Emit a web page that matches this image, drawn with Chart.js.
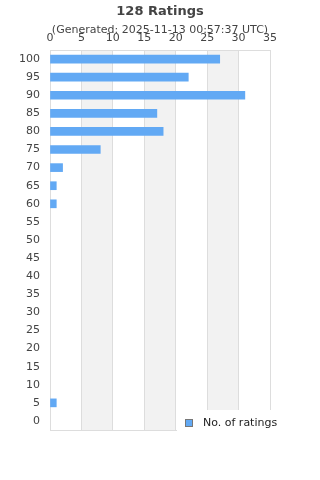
<!DOCTYPE html>
<html>
<head>
<meta charset="utf-8">
<script src="https://cdn.jsdelivr.net/npm/chart.js@4"></script>
<style>
  html, body { margin: 0; padding: 0; background: #fff; }
  #wrap { width: 320px; height: 480px; }
</style>
</head>
<body>
<div id="wrap"><canvas id="ratingsChart"></canvas></div>
<script>
// data
const categories = ['100', '95', '90', '85', '80', '75', '70', '65', '60', '55', '50',
                    '45', '40', '35', '30', '25', '20', '15', '10', '5', '0'];
const ratingCounts = [27, 22, 31, 17, 18, 8, 2, 1, 1, 0, 0, 0, 0, 0, 0, 0, 0, 0, 0, 1, 0];
const seriesLabel = 'No. of ratings';
const titleText = '128 Ratings';
const subtitleText = '(Generated: 2025-11-13 00:57:37 UTC)';
const xTickStep = 5;
const xMax = 35;
const bandRanges = [[5, 10], [15, 20], [25, 30]];

const barColor = '#62a9f4';
const textColor = '#444';
const gridColor = '#dddddd';
const bandColor = '#f2f2f2';

Chart.defaults.font.family = '"DejaVu Sans", sans-serif';

// alternating gray bands behind the grid
const bandsPlugin = {
    id: 'bands',
    beforeDraw(chart) {
        const { ctx, chartArea } = chart;
        const x = chart.scales.x;
        ctx.save();
        ctx.fillStyle = bandColor;
        bandRanges.forEach(([a, b]) => {
            const x0 = x.getPixelForValue(a);
            const x1 = x.getPixelForValue(b);
            ctx.fillRect(x0, chartArea.top, x1 - x0, chartArea.bottom - chartArea.top);
        });
        ctx.restore();
    }
};

// bottom border plus the legend box sitting over the lower right corner
const legendPlugin = {
    id: 'cornerLegend',
    afterDraw(chart) {
        const { ctx, chartArea } = chart;
        ctx.save();
        ctx.strokeStyle = gridColor;
        ctx.lineWidth = 1;
        ctx.beginPath();
        ctx.moveTo(chartArea.left, Math.round(chartArea.bottom) + 0.5);
        ctx.lineTo(chartArea.right, Math.round(chartArea.bottom) + 0.5);
        ctx.stroke();

        const boxLeft = chartArea.left + 127;
        const boxTop = chartArea.bottom - 20;
        ctx.fillStyle = '#fff';
        ctx.fillRect(boxLeft, boxTop, chart.width - boxLeft, chart.height - boxTop);

        ctx.fillStyle = barColor;
        ctx.fillRect(boxLeft + 8.5, boxTop + 9.5, 7, 7);
        ctx.strokeStyle = '#777';
        ctx.strokeRect(boxLeft + 8.5, boxTop + 9.5, 7, 7);

        ctx.fillStyle = '#222';
        ctx.font = '11px "DejaVu Sans", sans-serif';
        ctx.textBaseline = 'middle';
        ctx.textAlign = 'left';
        ctx.fillText(seriesLabel, boxLeft + 26, boxTop + 13);
        ctx.restore();
    }
};

new Chart(document.getElementById('ratingsChart'), {
    type: 'bar',
    data: {
        labels: categories,
        datasets: [{
            label: seriesLabel,
            data: ratingCounts,
            backgroundColor: (c) => (c.raw ? barColor : 'rgba(0,0,0,0)'),
            barThickness: 8
        }]
    },
    options: {
        indexAxis: 'y',
        responsive: true,
        maintainAspectRatio: false,
        animation: false,
        layout: { padding: { left: 0, right: 0, top: 0, bottom: 50 } },
        plugins: {
            legend: { display: false },
            tooltip: { enabled: false },
            title: {
                display: true,
                text: titleText,
                color: textColor,
                font: { size: 13, weight: 'bold' },
                padding: { top: 4, bottom: 4 }
            },
            subtitle: {
                display: true,
                text: subtitleText,
                color: textColor,
                font: { size: 11 },
                padding: { top: 0, bottom: -8 }
            }
        },
        scales: {
            x: {
                position: 'top',
                min: 0,
                max: xMax,
                grid: { color: gridColor, drawTicks: false },
                border: { color: gridColor },
                ticks: {
                    stepSize: xTickStep,
                    color: textColor,
                    font: { size: 11 },
                    padding: 5,
                    maxRotation: 0
                },
                afterFit(scale) { scale.height = 21.2; }
            },
            y: {
                grid: { display: false, drawTicks: false },
                border: { color: gridColor },
                ticks: {
                    color: textColor,
                    font: { size: 11 },
                    padding: 10,
                    autoSkip: false
                },
                afterFit(scale) { scale.width = 50; }
            },
            // empty right-hand spacer so the title stays centred on the canvas
            spacer: {
                type: 'category',
                axis: 'y',
                position: 'right',
                grid: { display: false },
                border: { display: false },
                ticks: { display: false },
                afterFit(scale) { scale.width = 50; }
            }
        }
    },
    plugins: [bandsPlugin, legendPlugin]
});
</script>
</body>
</html>
